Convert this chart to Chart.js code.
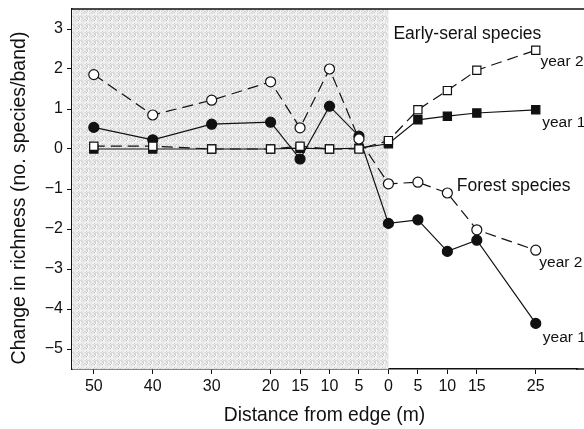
<!DOCTYPE html>
<html>
<head>
<meta charset="utf-8">
<script src="https://cdn.jsdelivr.net/npm/chart.js@4"></script>
<style>
  html, body { margin: 0; padding: 0; background: #fff; }
  #wrap { width: 584px; height: 429px; }
</style>
</head>
<body>
<div id="wrap"><canvas id="chart"></canvas></div>
<script>
// distance from edge: negative = inside the clearcut side (shaded), positive = forest
const distances = [-50, -40, -30, -20, -15, -10, -5, 0, 5, 10, 15, 25];
const forestYear1 = [0.54, 0.23, 0.62, 0.67, -0.25, 1.07, 0.32, -1.86, -1.77, -2.56, -2.28, -4.36];
const forestYear2 = [1.86, 0.85, 1.22, 1.68, 0.53, 2.0, 0.25, -0.87, -0.83, -1.1, -2.02, -2.53];
const earlyYear1 = [0, 0, 0, 0, 0.02, 0, 0.02, 0.13, 0.73, 0.82, 0.9, 0.98];
const earlyYear2 = [0.07, 0.07, 0, 0, 0.07, 0, 0, 0.21, 0.98, 1.46, 1.97, 2.47];
const yTicks = [-5, -4, -3, -2, -1, 0, 1, 2, 3];

// text labels placed in data units
const notes = [
  { text: 'Early-seral species', x: 0.85, y: 2.86 },
  { text: 'year 2', x: 25.8, y: 2.19 },
  { text: 'year 1', x: 26.1, y: 0.66 },
  { text: 'Forest species', x: 11.6, y: -0.94 },
  { text: 'year 2', x: 25.6, y: -2.84 },
  { text: 'year 1', x: 26.2, y: -4.72 }
];
const yTitle = 'Change in richness (no. species/band)';

const FONT = '"Liberation Sans", Arial, Helvetica, sans-serif';
const pts = (ys) => distances.map((x, i) => ({ x, y: ys[i] }));

// light grey stipple for the clearcut side
function stipple() {
  const n = 8;
  const c = document.createElement('canvas');
  c.width = n; c.height = n;
  const g = c.getContext('2d');
  for (let j = 0; j < n; j++) {
    for (let i = 0; i < n; i++) {
      const k = (i * 37 + j * 91 + i * j * 13) % 23;
      const s = 206 + k * 2;
      g.fillStyle = `rgb(${s},${s},${s})`;
      g.fillRect(i, j, 1, 1);
    }
  }
  return g.createPattern(c, 'repeat');
}

const frame = {
  id: 'frame',
  beforeDatasetsDraw(chart) {
    const { ctx, chartArea: a, scales: { x } } = chart;
    ctx.save();
    ctx.fillStyle = stipple();
    ctx.fillRect(a.left, a.top, x.getPixelForValue(0) - a.left, a.bottom - a.top);
    ctx.strokeStyle = '#111';
    ctx.lineWidth = 1.5;
    ctx.beginPath();
    ctx.moveTo(a.left, a.top);
    ctx.lineTo(chart.width, a.top);
    ctx.moveTo(a.right - 1, a.bottom);
    ctx.lineTo(chart.width, a.bottom);
    ctx.stroke();
    ctx.restore();
  },
  afterDraw(chart) {
    const { ctx, chartArea: a, scales: { x, y } } = chart;
    ctx.save();
    ctx.fillStyle = '#111';
    ctx.textAlign = 'left';
    ctx.textBaseline = 'middle';
    notes.forEach(n => {
      ctx.font = (n.text.startsWith('year') ? '15.5px ' : '17.5px ') + FONT;
      ctx.fillText(n.text, x.getPixelForValue(n.x), y.getPixelForValue(n.y));
    });
    // y title sits a little below the middle of the axis
    ctx.translate(20, (a.top + a.bottom) / 2 + 9);
    ctx.rotate(-Math.PI / 2);
    ctx.textAlign = 'center';
    ctx.font = '19.5px ' + FONT;
    ctx.fillText(yTitle, 0, 0);
    ctx.restore();
  }
};

const ds = (data, fill, style, dashed, order) => ({
  data,
  showLine: true,
  borderColor: '#111',
  borderWidth: 1.2,
  borderDash: dashed ? [11, 6] : [],
  pointStyle: style,
  pointRadius: style === 'rect' ? 5.8 : 5,
  pointBackgroundColor: fill ? '#111' : '#fff',
  pointBorderColor: '#111',
  pointBorderWidth: 1.2,
  order
});

new Chart(document.getElementById('chart'), {
  type: 'scatter',
  data: {
    datasets: [
      ds(pts(earlyYear1), true, 'rect', false, 4),
      ds(pts(forestYear1), true, 'circle', false, 3),
      ds(pts(earlyYear2), false, 'rect', true, 2),
      ds(pts(forestYear2), false, 'circle', true, 1)
    ]
  },
  options: {
    responsive: true,
    maintainAspectRatio: false,
    animation: false,
    devicePixelRatio: 1,
    layout: { padding: { top: 9, right: 0, left: 0, bottom: 0 } },
    plugins: { legend: { display: false }, tooltip: { enabled: false } },
    scales: {
      x: {
        type: 'linear',
        min: -53.7,
        max: 32,
        afterBuildTicks: s => { s.ticks = distances.map(v => ({ value: v })); },
        afterFit: s => { s.height = 60; s.paddingLeft = 0; s.paddingRight = 0; },
        grid: { drawOnChartArea: false, drawTicks: true, tickLength: 5, tickColor: '#111' },
        border: { display: true, color: '#111', width: 1.5 },
        ticks: {
          autoSkip: false, maxRotation: 0, padding: 3, color: '#111',
          font: { family: FONT, size: 16 },
          callback: v => String(Math.abs(v))
        },
        title: {
          display: true, text: 'Distance from edge (m)', color: '#111',
          font: { family: FONT, size: 19.3 }, padding: { top: 0, bottom: 2 }
        }
      },
      y: {
        min: -5.5,
        max: 3.5,
        afterBuildTicks: s => { s.ticks = yTicks.map(v => ({ value: v })); },
        afterFit: s => { s.width = 72; s.paddingTop = 0; s.paddingBottom = 0; },
        grid: { drawOnChartArea: false, drawTicks: true, tickLength: 5, tickColor: '#111' },
        border: { display: true, color: '#111', width: 1.5 },
        ticks: {
          padding: 4, color: '#111',
          font: { family: FONT, size: 16 },
          callback: v => (v < 0 ? '\u2212' + Math.abs(v) : String(v))
        },
        title: { display: false }
      }
    }
  },
  plugins: [frame]
});
</script>
</body>
</html>
